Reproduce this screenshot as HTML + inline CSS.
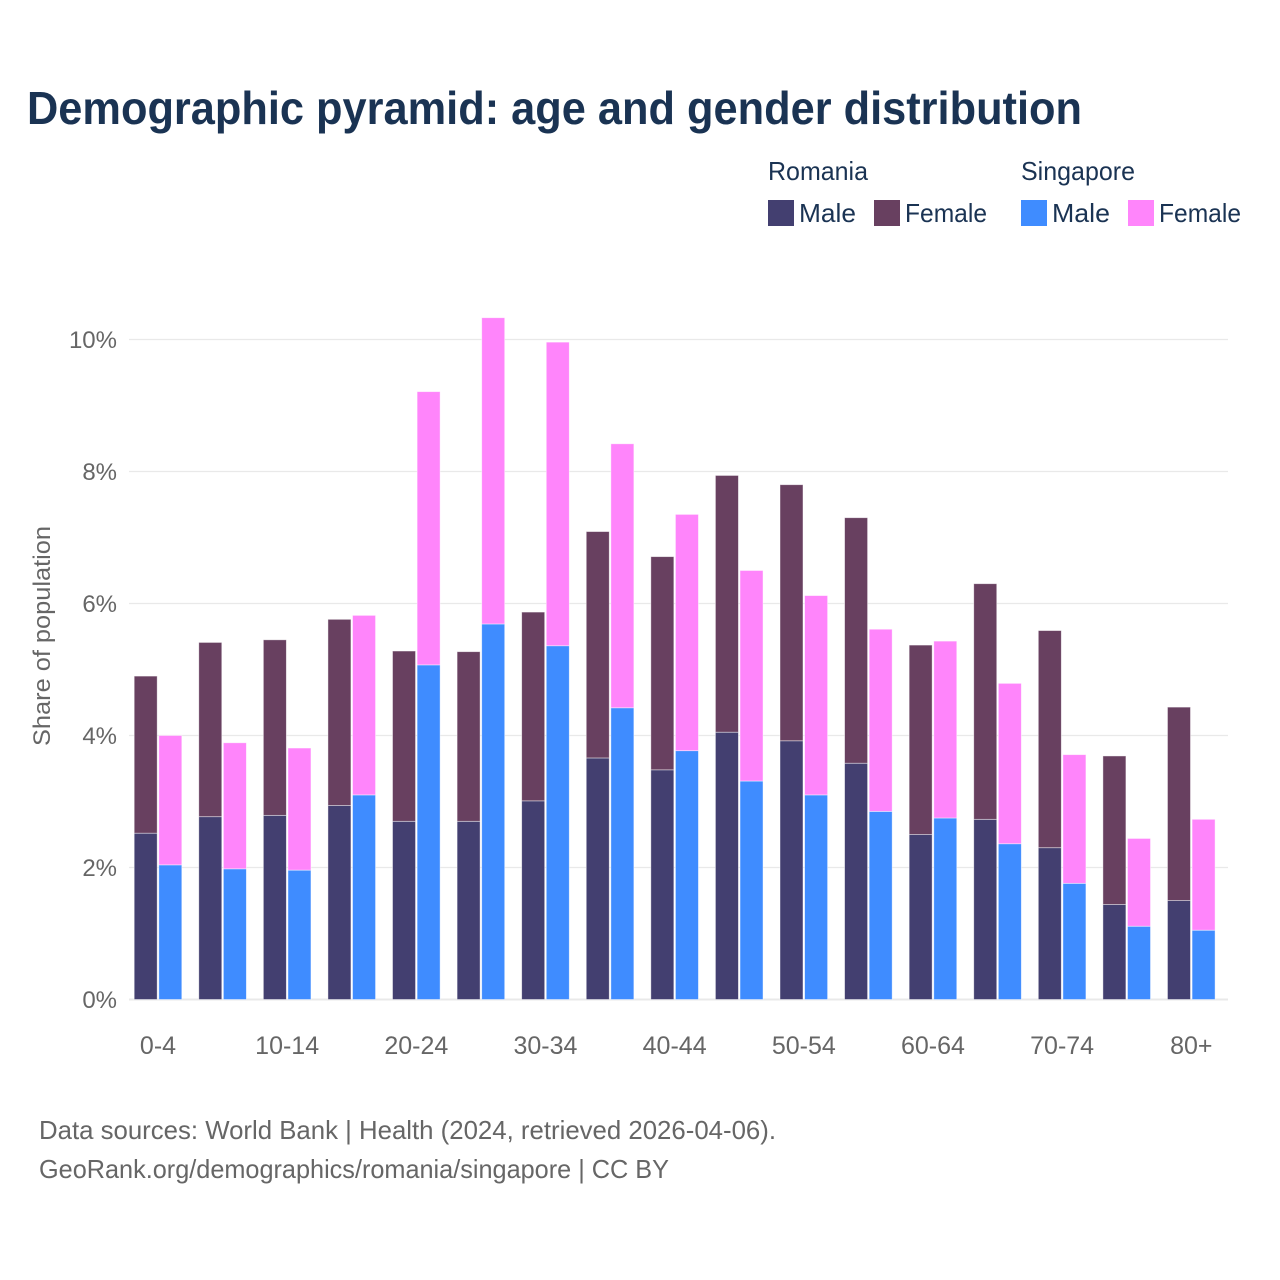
<!DOCTYPE html>
<html lang="en">
<head>
<meta charset="utf-8">
<title>Demographic pyramid</title>
<style>
html,body{margin:0;padding:0;background:#fff;width:1280px;height:1280px;overflow:hidden}
svg{display:block}
text{font-family:"Liberation Sans",sans-serif}
</style>
</head>
<body>
<svg id="chart" xmlns="http://www.w3.org/2000/svg" width="1280" height="1280" viewBox="0 0 1280 1280">
<rect width="1280" height="1280" fill="#fff"/>
<text x="27" y="124" font-size="46" font-weight="700" fill="#1a3353" textLength="1055" lengthAdjust="spacingAndGlyphs">Demographic pyramid: age and gender distribution</text>

<g font-size="26" fill="#1a3353">
<text x="768" y="180" textLength="100" lengthAdjust="spacingAndGlyphs">Romania</text>
<text x="1021" y="180" textLength="114" lengthAdjust="spacingAndGlyphs">Singapore</text>
<rect x="768" y="200" width="26" height="26" fill="#433f70"/>
<text x="799" y="222" textLength="57" lengthAdjust="spacingAndGlyphs">Male</text>
<rect x="874" y="200" width="26" height="26" fill="#684060"/>
<text x="905" y="222" textLength="82" lengthAdjust="spacingAndGlyphs">Female</text>
<rect x="1021" y="200" width="26" height="26" fill="#3f8cff"/>
<text x="1052" y="222" textLength="58" lengthAdjust="spacingAndGlyphs">Male</text>
<rect x="1128" y="200" width="26" height="26" fill="#ff85fb"/>
<text x="1159" y="222" textLength="82" lengthAdjust="spacingAndGlyphs">Female</text>
</g>

<g id="grid"></g>
<g id="yticks"></g>
<g id="bars"></g>
<g id="xticks"></g>

<text transform="translate(50,746) rotate(-90)" font-size="24" fill="#666" textLength="220" lengthAdjust="spacingAndGlyphs">Share of population</text>

<text x="39" y="1139" font-size="26" fill="#666" textLength="737" lengthAdjust="spacingAndGlyphs">Data sources: World Bank | Health (2024, retrieved 2026-04-06).</text>
<text x="39" y="1178" font-size="26" fill="#666" textLength="630" lengthAdjust="spacingAndGlyphs">GeoRank.org/demographics/romania/singapore | CC BY</text>
</svg>
<script>
const categories = ["0-4","5-9","10-14","15-19","20-24","25-29","30-34","35-39","40-44","45-49","50-54","55-59","60-64","65-69","70-74","75-79","80+"];
const romaniaMale = [2.52,2.77,2.79,2.94,2.70,2.70,3.01,3.66,3.48,4.05,3.92,3.58,2.50,2.73,2.30,1.44,1.50];
const romaniaFemale = [2.38,2.64,2.66,2.82,2.58,2.57,2.86,3.43,3.23,3.89,3.88,3.72,2.87,3.57,3.29,2.25,2.93];
const singaporeMale = [2.04,1.98,1.96,3.10,5.07,5.69,5.36,4.42,3.77,3.31,3.10,2.85,2.75,2.36,1.76,1.11,1.05];
const singaporeFemale = [1.96,1.91,1.85,2.72,4.14,4.64,4.60,4.00,3.58,3.19,3.02,2.76,2.68,2.43,1.95,1.33,1.68];
const yTickValues = [0,2,4,6,8,10];

const NS = "http://www.w3.org/2000/svg";
const yScale = v => 999.5 - v * 66;
const xScale = i => 158 + i * 64.58;
const BAR_W = 23;
const BAR_OFFSET = 0.8;

function make(tag, parent, attrs) {
  const el = document.createElementNS(NS, tag);
  for (const k in attrs) el.setAttribute(k, attrs[k]);
  parent.appendChild(el);
  return el;
}

const gridG = document.getElementById("grid");
const yG = document.getElementById("yticks");
yTickValues.forEach(v => {
  const line = make("line", gridG, {x1:129, x2:1228, y1:yScale(v), y2:yScale(v), stroke:"#e9e9e9", "stroke-width": v === 0 ? 2 : 1.2});
  
  
  const t = make("text", yG, {x:117, y:yScale(v) + 8.5, "text-anchor":"end", "font-size":24, fill:"#666"});
  t.textContent = v + "%";
  
  
});

const barsG = document.getElementById("bars");
function drawBar(x, base, value, fill) {
  const yTop = yScale(base + value);
  const r = make("rect", barsG, {x:x, y:yTop, width:BAR_W, height:yScale(base) - yTop, fill:fill, stroke:"#fff", "stroke-opacity":0.55, "stroke-width":0.8});
  
  
}
categories.forEach((c, i) => {
  const cx = xScale(i);
  const rx = cx - BAR_OFFSET - BAR_W;
  const sx = cx + BAR_OFFSET;
  drawBar(rx, 0, romaniaMale[i], "#433f70");
  drawBar(rx, romaniaMale[i], romaniaFemale[i], "#684060");
  drawBar(sx, 0, singaporeMale[i], "#3f8cff");
  drawBar(sx, singaporeMale[i], singaporeFemale[i], "#ff85fb");
});

const xG = document.getElementById("xticks");
categories.forEach((c, i) => {
  if (i % 2 !== 0) return;
  const t = make("text", xG, {x:xScale(i), y:1054, "text-anchor":"middle", "font-size":25, fill:"#666"});
  t.textContent = c;
  
  
});
</script>
</body>
</html>
